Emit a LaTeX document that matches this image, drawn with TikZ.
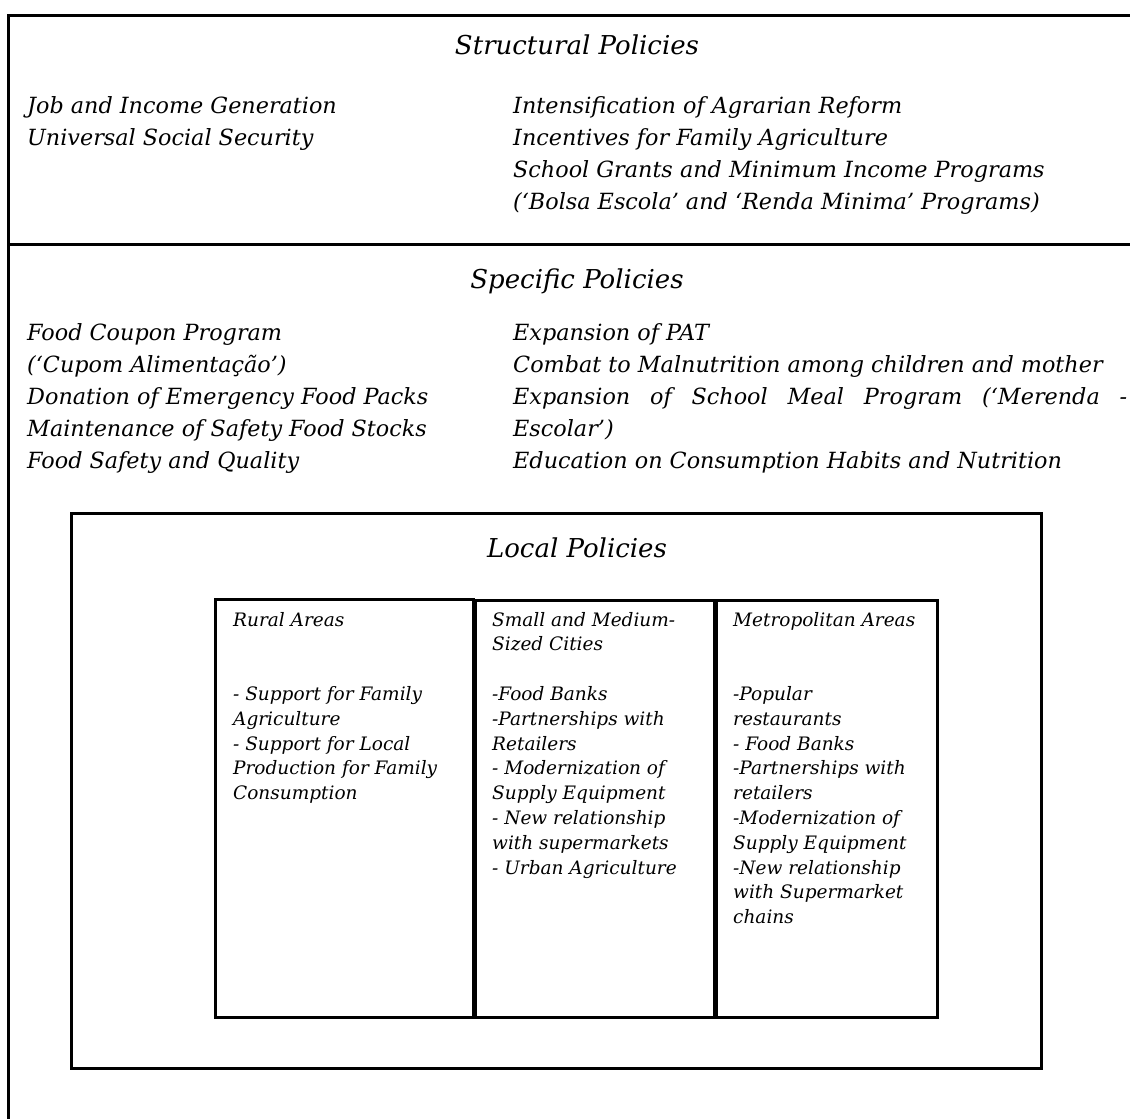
\documentclass[tikz,border=0pt]{standalone}
\usepackage{fontspec}
\setmainfont{DejaVu Serif}
\usetikzlibrary{positioning}

\begin{document}
\begin{tikzpicture}[
  x=1pt, y=-1pt,
  rule/.style={line width=3pt, line cap=rect},
  frame/.style={draw, line width=2.6pt, rectangle, inner sep=0pt, anchor=north west},
  title/.style={font=\itshape\fontsize{26}{30}\selectfont, anchor=base, inner sep=0pt},
  % base anchor of a multi-line node = baseline of its last line
  item/.style={font=\itshape\fontsize{22.3}{32.2}\selectfont, anchor=base west, align=left, inner sep=0pt},
  area/.style={font=\itshape\fontsize{18.5}{24.8}\selectfont, anchor=base west, align=left, inner sep=0pt}
]
\useasboundingbox (0,0) rectangle (1130,1119);

% outer frame
\draw[rule] (1130,15) -- (8,15) -- (8,1119);
\draw[rule] (8,244) -- (1130,244);

% structural policies
\node[title] (struct) at (577,54) {Structural Policies};
\node[item] (structL) at (27,145.2) {Job and Income Generation\\Universal Social Security};
\node[item] (structR) at (513,209.6) {Intensification of Agrarian Reform\\Incentives for Family Agriculture\\School Grants and Minimum Income Programs\\(‘Bolsa Escola’ and ‘Renda Minima’ Programs)};

% specific policies
\node[title] (spec) at (577,288) {Specific Policies};
\node[item] (specL) at (27,468.8) {Food Coupon Program\\(‘Cupom Alimentação’)\\Donation of Emergency Food Packs\\Maintenance of Safety Food Stocks\\Food Safety and Quality};
\node[item] (specR) at (513,468.8) {Expansion of PAT\\Combat to Malnutrition among children and mother\\\makebox[614pt][s]{Expansion of School Meal Program (‘Merenda -}\\Escolar’)\\Education on Consumption Habits and Nutrition};

% local policies
\node[frame, minimum width=970, minimum height=555] (local) at (70,512) {};
\node[title] (loc) at (577,557) {Local Policies};

\node[frame, minimum width=258, minimum height=418] (rural) at (214,598) {};
\node[frame, minimum width=239, minimum height=417] (cities) at (474,599) {};
\node[frame, minimum width=221, minimum height=417] (metro) at (715,599) {};

\node[area] (ruralT) at (233,799.6) {Rural Areas\\[49.6pt]- Support for Family\\Agriculture\\- Support for Local\\Production for Family\\Consumption};
\node[area] (citiesT) at (492,874) {Small and Medium-\\Sized Cities\\[24.8pt]-Food Banks\\-Partnerships with\\Retailers\\- Modernization of\\Supply Equipment\\- New relationship\\with supermarkets\\- Urban Agriculture};
\node[area] (metroT) at (733,923.6) {Metropolitan Areas\\[49.6pt]-Popular\\restaurants\\- Food Banks\\-Partnerships with\\retailers\\-Modernization of\\Supply Equipment\\-New relationship\\with Supermarket\\chains};
\end{tikzpicture}
\end{document}
